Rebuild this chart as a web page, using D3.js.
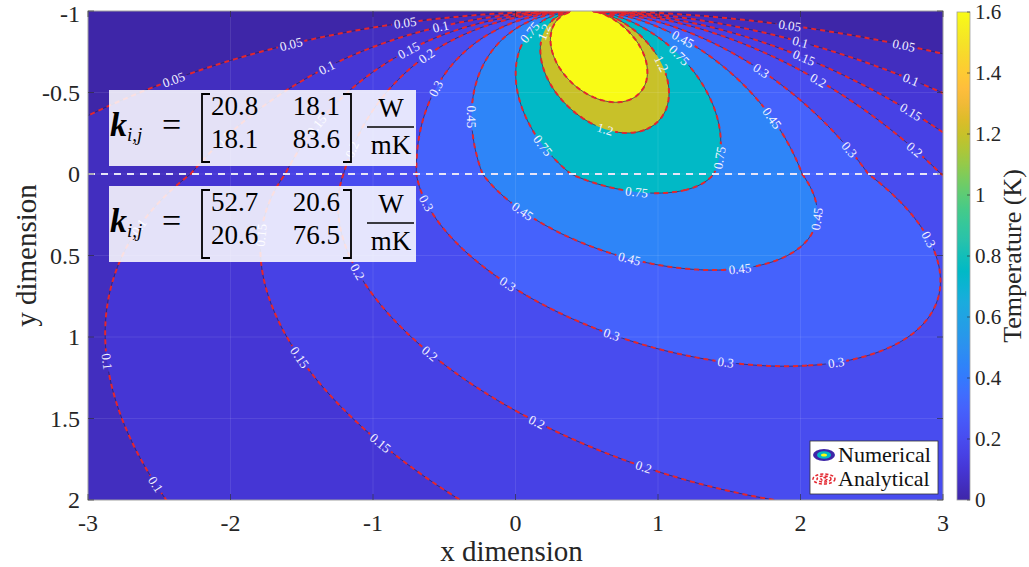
<!DOCTYPE html>
<html>
<head>
<meta charset="utf-8">
<script src="https://cdn.jsdelivr.net/npm/d3@7"></script>
<style>
body { margin: 0; background: #fff; }
svg text { font-family: "Liberation Serif", "Times New Roman", serif; }
</style>
</head>
<body>
<svg id="chart" width="1029" height="567"></svg>
<script>
// conductivity tensors printed in the two text boxes (W/mK)
var kUpperText = [["20.8", "18.1"], ["18.1", "83.6"]];
var kLowerText = [["52.7", "20.6"], ["20.6", "76.5"]];

// field model, values
var surfaceY = -1, interfaceY = 0;
var stripX = [0.39, 0.55];      // heated strip on the surface
var stripT = 19.8;              // strip temperature (K)
var layerShear = [0.42, 0.85];  // x drift of the plume per unit depth (upper, lower layer)
var layerScale = [1.12, 1.9];   // equivalent isotropic depth per unit depth

var levels = [0.05, 0.1, 0.15, 0.2, 0.3, 0.45, 0.75, 1.2, 1.6];
var xTicks = [-3, -2, -1, 0, 1, 2, 3];
var yTicks = [-1, -0.5, 0, 0.5, 1, 1.5, 2];
var cbTicks = [0, 0.2, 0.4, 0.6, 0.8, 1, 1.2, 1.4, 1.6];
var cbMax = 1.6;

// clabel spots: [level, x, y]
var labelSpots = [
  [0.05, -0.78, -0.93], [0.1, -0.53, -0.90], [0.05, -1.58, -0.78], [0.15, -0.74, -0.76],
  [0.2, -0.60, -0.71], [0.1, -1.32, -0.65], [0.05, -2.38, -0.53], [0.3, -0.58, -0.52],
  [0.45, -0.28, -0.34], [0.1, -1.93, -0.10], [0.15, -1.37, -0.29], [0.2, -1.09, -0.13],
  [0.3, -0.63, 0.18], [0.1, -2.42, 0.45], [0.15, -1.63, 0.39], [0.2, -1.07, 0.57],
  [0.3, -0.09, 0.71], [0.1, -2.59, 1.12], [0.15, -1.44, 1.08], [0.2, -0.58, 1.10],
  [0.1, -2.34, 1.80], [0.15, -0.92, 1.63], [0.2, 0.11, 1.58], [0.2, 0.86, 1.91],
  [0.3, 0.65, 1.06], [0.3, 1.45, 1.27], [0.3, 2.28, 1.30], [0.75, 0.84, 0.18],
  [0.45, 0.03, 0.27], [0.45, 2.17, 0.28], [0.45, 0.78, 0.60], [0.45, 1.60, 0.69],
  [0.3, 2.91, 0.40], [0.05, 1.93, -0.91], [0.1, 2.0, -0.83], [0.15, 2.03, -0.73],
  [0.2, 2.12, -0.59], [0.3, 1.74, -0.64], [0.45, 1.79, -0.33], [0.3, 2.35, -0.15],
  [0.2, 2.79, -0.13], [0.15, 2.77, -0.38], [0.1, 2.77, -0.58], [0.05, 2.72, -0.79],
  [0.75, 0.17, -0.17], [0.75, 1.45, -0.10], [1.2, 0.64, -0.28], [1.2, 1.01, -0.68],
  [0.75, 1.15, -0.74], [0.45, 1.17, -0.82], [0.75, 0.15, -0.84], [1.2, 0.26, -0.84]
];

// matlab parula
var parulaMap = [
[0.2422,0.1504,0.6603],[0.2504,0.1650,0.7076],[0.2578,0.1818,0.7511],[0.2647,0.1978,0.7952],
[0.2706,0.2147,0.8364],[0.2751,0.2342,0.8710],[0.2783,0.2559,0.8991],[0.2803,0.2782,0.9221],
[0.2813,0.3006,0.9414],[0.2810,0.3228,0.9579],[0.2795,0.3447,0.9717],[0.2760,0.3667,0.9829],
[0.2699,0.3892,0.9906],[0.2602,0.4123,0.9952],[0.2440,0.4358,0.9988],[0.2206,0.4603,0.9973],
[0.1963,0.4847,0.9892],[0.1834,0.5074,0.9798],[0.1786,0.5289,0.9682],[0.1764,0.5499,0.9520],
[0.1687,0.5703,0.9359],[0.1540,0.5902,0.9218],[0.1460,0.6091,0.9079],[0.1380,0.6276,0.8973],
[0.1248,0.6459,0.8883],[0.1113,0.6635,0.8763],[0.0952,0.6798,0.8598],[0.0689,0.6948,0.8394],
[0.0297,0.7082,0.8163],[0.0036,0.7203,0.7917],[0.0067,0.7312,0.7660],[0.0433,0.7411,0.7394],
[0.0964,0.7500,0.7120],[0.1408,0.7584,0.6842],[0.1717,0.7670,0.6554],[0.1938,0.7758,0.6251],
[0.2161,0.7843,0.5923],[0.2470,0.7918,0.5567],[0.2906,0.7973,0.5188],[0.3406,0.8008,0.4789],
[0.3909,0.8029,0.4354],[0.4456,0.8024,0.3909],[0.5044,0.7993,0.3480],[0.5616,0.7942,0.3045],
[0.6174,0.7876,0.2612],[0.6720,0.7793,0.2227],[0.7242,0.7698,0.1910],[0.7738,0.7598,0.1646],
[0.8203,0.7498,0.1535],[0.8634,0.7406,0.1596],[0.9035,0.7330,0.1774],[0.9393,0.7288,0.2100],
[0.9728,0.7298,0.2394],[0.9956,0.7434,0.2371],[0.9970,0.7659,0.2199],[0.9952,0.7893,0.2028],
[0.9892,0.8136,0.1885],[0.9786,0.8386,0.1766],[0.9676,0.8639,0.1643],[0.9610,0.8890,0.1537],
[0.9597,0.9135,0.1423],[0.9628,0.9373,0.1265],[0.9691,0.9606,0.1064],[0.9769,0.9839,0.0805]
];

function parula(t) {
  t = Math.max(0, Math.min(1, t));
  var p = t * (parulaMap.length - 1), i = Math.min(Math.floor(p), parulaMap.length - 2), f = p - i;
  var a = parulaMap[i], b = parulaMap[i + 1];
  return d3.rgb(255 * (a[0] + (b[0] - a[0]) * f), 255 * (a[1] + (b[1] - a[1]) * f), 255 * (a[2] + (b[2] - a[2]) * f)) + "";
}

var svg = d3.select("#chart");
var X = d3.scaleLinear().domain([-3, 3]).range([88, 943]);
var Y = d3.scaleLinear().domain([-1, 2]).range([11, 500]);

// ---- temperature grid: strip source, sheared/stretched half space per layer
var nx = 241, nz = 121;
var dx = 6 / (nx - 1), dz = 3 / (nz - 1);
var values = new Float64Array(nx * nz);
var H = interfaceY - surfaceY;

function temperature(x, z) {
  if (z <= 0) return (x >= stripX[0] && x <= stripX[1]) ? stripT : 0;
  var z1 = Math.min(z, H), z2 = Math.max(z - H, 0);
  var xs = x - layerShear[0] * z1 - layerShear[1] * z2;
  var ys = layerScale[0] * z1 + layerScale[1] * z2;
  return stripT / Math.PI * (Math.atan((stripX[1] - xs) / ys) - Math.atan((stripX[0] - xs) / ys));
}
for (var j = 0; j < nz; j++) {
  for (var i = 0; i < nx; i++) values[j * nx + i] = temperature(-3 + i * dx, j * dz);
}

var contours = d3.contours().size([nx, nz]).thresholds(levels)(values);
function gx(u) { return X(-3 + (u - 0.5) * dx); }
function gy(v) { return Y(-1 + (v - 0.5) * dz); }
var path = d3.geoPath(d3.geoTransform({point: function(u, v) { this.stream.point(gx(u), gy(v)); }}));

var defs = svg.append("defs");
defs.append("clipPath").attr("id", "plotClip").append("rect")
  .attr("x", X(-3)).attr("y", Y(-1)).attr("width", X(3) - X(-3)).attr("height", Y(2) - Y(-1));

var plot = svg.append("g").attr("clip-path", "url(#plotClip)");
plot.append("rect").attr("x", X(-3)).attr("y", Y(-1)).attr("width", X(3) - X(-3)).attr("height", Y(2) - Y(-1))
  .attr("fill", parula(0));
plot.selectAll("path.fill").data(contours).enter().append("path")
  .attr("class", "fill")
  .attr("d", path)
  .attr("fill", function(d) { return parula(d.value / cbMax); });

// faint grid
plot.selectAll("line.gx").data(xTicks.slice(1, -1)).enter().append("line")
  .attr("x1", function(d) { return X(d); }).attr("x2", function(d) { return X(d); })
  .attr("y1", Y(-1)).attr("y2", Y(2)).attr("stroke", "#fff").attr("stroke-opacity", 0.12).attr("stroke-width", 0.8);
plot.selectAll("line.gy").data(yTicks.slice(1, -1)).enter().append("line")
  .attr("y1", function(d) { return Y(d); }).attr("y2", function(d) { return Y(d); })
  .attr("x1", X(-3)).attr("x2", X(3)).attr("stroke", "#fff").attr("stroke-opacity", 0.12).attr("stroke-width", 0.8);

// place labels on the nearest point of their contour
var labels = labelSpots.map(function(s) {
  var cont = contours[levels.indexOf(s[0])], px = X(s[1]), py = Y(s[2]), best = null;
  cont.coordinates.forEach(function(poly) {
    poly.forEach(function(ring) {
      for (var i = 2; i < ring.length - 2; i++) {
        var u = ring[i][0], v = ring[i][1];
        if (u <= 0.6 || u >= nx - 0.6 || v <= 2 || v >= nz - 0.6) continue;
        var qx = gx(u), qy = gy(v), d = (qx - px) * (qx - px) + (qy - py) * (qy - py);
        if (!best || d < best.d) best = {d: d, ring: ring, i: i, x: qx, y: qy};
      }
    });
  });
  if (!best || best.d > 50 * 50) return null;
  var p0 = best.ring[best.i - 2], p1 = best.ring[best.i + 2];
  var ang = Math.atan2(gy(p1[1]) - gy(p0[1]), gx(p1[0]) - gx(p0[0])) * 180 / Math.PI;
  if (ang > 90) ang -= 180;
  if (ang < -90) ang += 180;
  return {x: best.x, y: best.y, a: ang, t: String(s[0])};
}).filter(function(d) { return d; });

var mask = defs.append("mask").attr("id", "lblMask");
mask.append("rect").attr("x", 0).attr("y", 0).attr("width", 1029).attr("height", 567).attr("fill", "#fff");
mask.selectAll("rect.gap").data(labels).enter().append("rect")
  .attr("x", function(d) { return -d.t.length * 3.4; }).attr("y", -5)
  .attr("width", function(d) { return d.t.length * 6.8; }).attr("height", 10)
  .attr("fill", "#000")
  .attr("transform", function(d) { return "translate(" + d.x + "," + d.y + ") rotate(" + d.a + ")"; });

var lines = plot.append("g").attr("mask", "url(#lblMask)");
lines.selectAll("path.num").data(contours).enter().append("path")
  .attr("d", path).attr("fill", "none").attr("stroke", "#2a2050").attr("stroke-opacity", 0.75).attr("stroke-width", 0.9);
lines.selectAll("path.ana").data(contours).enter().append("path")
  .attr("d", path).attr("fill", "none").attr("stroke", "#e3262f").attr("stroke-width", 2)
  .attr("stroke-dasharray", "5,4");

plot.selectAll("text.lbl").data(labels).enter().append("text")
  .attr("transform", function(d) { return "translate(" + d.x + "," + d.y + ") rotate(" + d.a + ")"; })
  .attr("text-anchor", "middle").attr("dy", "0.35em")
  .attr("fill", "#f4f2ff").attr("font-size", 13)
  .text(function(d) { return d.t; });

// layer interface
plot.append("line").attr("x1", X(-3)).attr("x2", X(3)).attr("y1", Y(interfaceY)).attr("y2", Y(interfaceY))
  .attr("stroke", "#e6e4f8").attr("stroke-width", 1.8).attr("stroke-dasharray", "7,6");

// axes frame and ticks
var axisCol = "#262626";
svg.append("rect").attr("x", X(-3)).attr("y", Y(-1)).attr("width", X(3) - X(-3)).attr("height", Y(2) - Y(-1))
  .attr("fill", "none").attr("stroke", "#a0a0a0").attr("stroke-width", 1);
xTicks.forEach(function(t) {
  svg.append("line").attr("x1", X(t)).attr("x2", X(t)).attr("y1", Y(2)).attr("y2", Y(2) - 6).attr("stroke", axisCol).attr("stroke-opacity", 0.6);
  svg.append("line").attr("x1", X(t)).attr("x2", X(t)).attr("y1", Y(-1)).attr("y2", Y(-1) + 6).attr("stroke", axisCol).attr("stroke-opacity", 0.6);
  svg.append("text").attr("x", X(t)).attr("y", 531).attr("text-anchor", "middle")
    .attr("font-size", 24).attr("fill", axisCol).text(t);
});
yTicks.forEach(function(t) {
  svg.append("line").attr("x1", X(-3)).attr("x2", X(-3) + 6).attr("y1", Y(t)).attr("y2", Y(t)).attr("stroke", axisCol).attr("stroke-opacity", 0.6);
  svg.append("line").attr("x1", X(3)).attr("x2", X(3) - 6).attr("y1", Y(t)).attr("y2", Y(t)).attr("stroke", axisCol).attr("stroke-opacity", 0.6);
  svg.append("text").attr("x", 80).attr("y", Math.max(Y(t), 14)).attr("dy", "0.35em").attr("text-anchor", "end")
    .attr("font-size", 24).attr("fill", axisCol).text(t);
});
svg.append("text").attr("x", X(0) - 4).attr("y", 561).attr("text-anchor", "middle")
  .attr("font-size", 29).attr("fill", axisCol).text("x dimension");
svg.append("text").attr("transform", "translate(36," + Y(0.5) + ") rotate(-90)").attr("text-anchor", "middle")
  .attr("font-size", 29).attr("fill", axisCol).text("y dimension");

// colorbar
var cbX = 957, cbW = 13;
var cbY = d3.scaleLinear().domain([0, cbMax]).range([500, 12]);
var grad = defs.append("linearGradient").attr("id", "cbGrad").attr("x1", 0).attr("x2", 0).attr("y1", 1).attr("y2", 0);
grad.selectAll("stop").data(d3.range(0, 1.0001, 1 / 32)).enter().append("stop")
  .attr("offset", function(d) { return d; }).attr("stop-color", function(d) { return parula(d); });
svg.append("rect").attr("x", cbX).attr("y", cbY(cbMax)).attr("width", cbW).attr("height", cbY(0) - cbY(cbMax))
  .attr("fill", "url(#cbGrad)").attr("stroke", "#a0a0a0").attr("stroke-width", 0.8);
cbTicks.forEach(function(t) {
  svg.append("line").attr("x1", cbX + cbW).attr("x2", cbX + cbW - 3).attr("y1", cbY(t)).attr("y2", cbY(t))
    .attr("stroke", axisCol).attr("stroke-opacity", 0.6);
  svg.append("text").attr("x", cbX + cbW + 5).attr("y", cbY(t)).attr("dy", "0.35em")
    .attr("font-size", 21).attr("fill", axisCol).text(t);
});
svg.append("text").attr("transform", "translate(1021," + cbY(0.8) + ") rotate(-90)").attr("text-anchor", "middle")
  .attr("font-size", 26).attr("fill", axisCol).text("Temperature (K)");

// tensor text boxes
function tensorBox(top, vals) {
  var g = svg.append("g").attr("transform", "translate(0," + top + ")");
  g.append("rect").attr("x", 109).attr("y", 0).attr("width", 307).attr("height", 76)
    .attr("fill", "#fff").attr("fill-opacity", 0.86);
  g.append("text").attr("x", 110).attr("y", 46).attr("font-size", 34).attr("font-weight", "bold")
    .attr("font-style", "italic").attr("fill", "#000").text("k");
  g.append("text").attr("x", 127).attr("y", 51).attr("font-size", 19).attr("font-style", "italic")
    .attr("fill", "#000").text("i,j");
  g.append("text").attr("x", 162).attr("y", 46).attr("font-size", 34).attr("fill", "#000").text("=");
  g.append("path").attr("d", "M210,4 H202 V72 H210 M343,4 H351 V72 H343").attr("fill", "none")
    .attr("stroke", "#000").attr("stroke-width", 1.8);
  vals.forEach(function(r, ri) {
    g.append("text").attr("x", 211).attr("y", 25 + ri * 33).attr("font-size", 27).attr("fill", "#000").text(r[0]);
    g.append("text").attr("x", 340).attr("y", 25 + ri * 33).attr("text-anchor", "end").attr("font-size", 27).attr("fill", "#000").text(r[1]);
  });
  g.append("text").attr("x", 391).attr("y", 27).attr("text-anchor", "middle").attr("font-size", 27).attr("fill", "#000").text("W");
  g.append("line").attr("x1", 367).attr("x2", 414).attr("y1", 37).attr("y2", 37).attr("stroke", "#000").attr("stroke-width", 1.5);
  g.append("text").attr("x", 391).attr("y", 64).attr("text-anchor", "middle").attr("font-size", 27).attr("fill", "#000").text("mK");
}
tensorBox(90, kUpperText);
tensorBox(186, kLowerText);

// legend
var lg = svg.append("g");
lg.append("rect").attr("x", 810).attr("y", 441).attr("width", 128).attr("height", 53)
  .attr("fill", "#fff").attr("stroke", "#333").attr("stroke-width", 0.8);
[[11, 6, 0], [7, 3.8, 0.47], [3, 1.6, 1]].forEach(function(e) {
  lg.append("ellipse").attr("cx", 824).attr("cy", 455).attr("rx", e[0]).attr("ry", e[1]).attr("fill", parula(e[2]));
});
[[11, 5], [7, 3], [3, 1.5]].forEach(function(e) {
  lg.append("ellipse").attr("cx", 824).attr("cy", 479).attr("rx", e[0]).attr("ry", e[1]).attr("fill", "none")
    .attr("stroke", "#e3262f").attr("stroke-width", 1.5).attr("stroke-dasharray", "3,2");
});
lg.append("text").attr("x", 838).attr("y", 462).attr("font-size", 22).attr("fill", "#111").text("Numerical");
lg.append("text").attr("x", 838).attr("y", 486).attr("font-size", 22).attr("fill", "#111").text("Analytical");
</script>
</body>
</html>
